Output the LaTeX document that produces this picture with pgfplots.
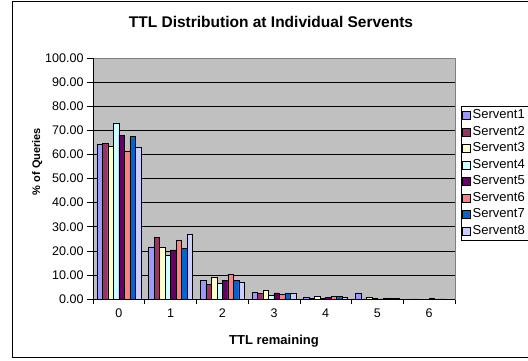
\documentclass[border=0pt]{standalone}
\usepackage{pgfplots}
\pgfplotsset{compat=1.18}
\usepackage{pgfplotstable}
\usepackage{fontspec}
\setmainfont{Liberation Sans}
\definecolor{sA}{HTML}{9999FF}
\definecolor{sB}{HTML}{993366}
\definecolor{sC}{HTML}{FFFFCC}
\definecolor{sD}{HTML}{CCFFFF}
\definecolor{sE}{HTML}{660066}
\definecolor{sF}{HTML}{FF8080}
\definecolor{sG}{HTML}{0066CC}
\definecolor{sH}{HTML}{CCCCFF}
\definecolor{plotbg}{HTML}{C0C0C0}
\pgfplotstableread{
ttl s1 s2 s3 s4 s5 s6 s7 s8
0 64.4 64.5 63.3 73.1 68.0 61.5 67.5 62.9
1 21.6 25.6 21.6 18.1 20.4 24.5 20.9 26.9
2 7.6 6.0 8.9 6.4 7.6 10.4 7.6 6.9
3 2.8 2.3 3.6 1.4 2.5 1.9 2.3 2.3
4 0.7 0.3 1.2 0.4 0.7 1.0 1.0 0.6
5 2.3 0.1 0.8 0.2 0.1 0.5 0.2 0.3
6 0.1 0.1 0.1 0.1 0.2 0.1 0.1 0.1
}\ttldata
\begin{document}
\begin{tikzpicture}[x=1pt,y=1pt]
\clip (0,0) rectangle (528,360);
\fill[white] (0,0) rectangle (528,360);
\draw[black, line width=0.8pt] (12,3) rectangle (540,359);
\begin{axis}[
  at={(93pt,61pt)}, anchor=south west,
  scale only axis, width=362pt, height=241pt,
  ybar=0pt, bar width=5.5pt,
  xmin=-0.5, xmax=6.5, ymin=0, ymax=100,
  axis background/.style={fill=plotbg},
  axis line style={draw=gray},
  xtick={0,...,6}, xticklabels={0,1,2,3,4,5,6},
  major x tick style={draw=none},
  minor xtick={-0.5,0.5,1.5,2.5,3.5,4.5,5.5,6.5},
  minor tick length=5pt,
  ytick={0,10,...,100},
  major tick length=6pt,
  tick align=outside, tick pos=left,
  tick style={black, line width=0.6pt},
  ymajorgrids, grid style={black, line width=0.6pt},
  yticklabel style={font=\fontsize{12.5}{14}\selectfont, /pgf/number format/.cd, fixed, fixed zerofill, precision=2, assume math mode=true},
  xticklabel style={font=\fontsize{12.5}{14}\selectfont},
  title={TTL Distribution at Individual Servents},
  title style={font=\bfseries\fontsize{15.5}{18}\selectfont, at={(axis description cs:0.4917,1.125)}, anchor=center, yshift=0pt},
  xlabel={TTL remaining},
  xlabel style={font=\bfseries\fontsize{13}{15}\selectfont, at={(axis description cs:0.5,-0.173)}, anchor=center},
  ylabel={\% of Queries},
  ylabel style={font=\bfseries\fontsize{11}{13}\selectfont, at={(axis description cs:-0.1539,0.5705)}, anchor=center},
  legend style={at={(axis description cs:1.0166,0.801)}, anchor=north west, draw=black, fill=white, font=\fontsize{13}{15}\selectfont, inner sep=1pt, row sep=0pt,
    nodes={inner sep=2pt, text height=9.5pt, text depth=3pt}},
  legend cell align=left,
  legend image code/.code={\draw[#1, draw=black, line width=0.5pt] (0pt,-4pt) rectangle (8pt,4pt);},
  every axis plot/.append style={draw=black, line width=0.5pt},
  clip=false,
]
\addplot[fill=sA] table[x=ttl,y=s1] {\ttldata};
\addplot[fill=sB] table[x=ttl,y=s2] {\ttldata};
\addplot[fill=sC] table[x=ttl,y=s3] {\ttldata};
\addplot[fill=sD] table[x=ttl,y=s4] {\ttldata};
\addplot[fill=sE] table[x=ttl,y=s5] {\ttldata};
\addplot[fill=sF] table[x=ttl,y=s6] {\ttldata};
\addplot[fill=sG] table[x=ttl,y=s7] {\ttldata};
\addplot[fill=sH] table[x=ttl,y=s8] {\ttldata};
\legend{Servent1,Servent2,Servent3,Servent4,Servent5,Servent6,Servent7,Servent8}
\draw[black, line width=0.8pt] (axis description cs:0,0) -- (axis description cs:0,1);
\draw[black, line width=0.8pt] (axis description cs:0,0) -- (axis description cs:1,0);
\end{axis}
\end{tikzpicture}
\end{document}
